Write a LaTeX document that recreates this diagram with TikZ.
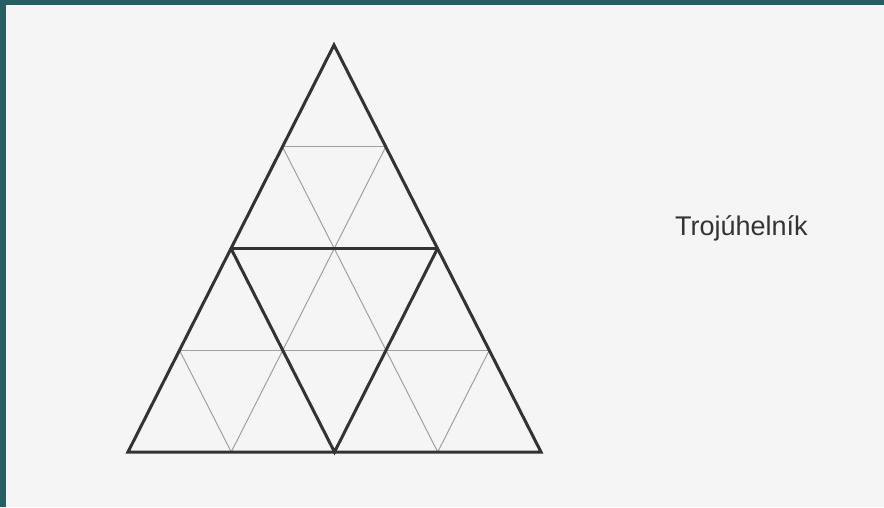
\documentclass[tikz,border=0pt]{standalone}
\usepackage{fontspec}
\setsansfont{Liberation Sans}
\usetikzlibrary{calc}
\definecolor{bgpaper}{HTML}{F5F5F5}
\definecolor{frameteal}{HTML}{265E61}
\definecolor{thickline}{HTML}{333333}
\definecolor{thinline}{HTML}{A0A0A0}
\definecolor{labeltext}{HTML}{333333}
\tikzset{
  thickedge/.style={draw=thickline, line width=3pt, line join=miter, line cap=round},
  thinedge/.style={draw=thinline, line width=1pt},
  labelstyle/.style={font=\sffamily\fontsize{27}{32}\selectfont, text=labeltext, inner sep=0pt, anchor=base west}
}
\begin{document}
\begin{tikzpicture}[x=1pt,y=-1pt]
\useasboundingbox (0,0) rectangle (884,507);
\fill[bgpaper] (0,0) rectangle (884,507);
\fill[frameteal] (0,0) rectangle (884,5);
\fill[frameteal] (0,0) rectangle (6,507);
% vertices
\coordinate (A) at (334,45);
\coordinate (L) at (128,452);
\coordinate (R) at (541,452);
\foreach \k in {0,...,4} {
  \coordinate (l\k) at ($(A)!\k/4!(L)$);
  \coordinate (r\k) at ($(A)!\k/4!(R)$);
  \coordinate (b\k) at ($(L)!\k/4!(R)$);
}
% thin grid
\foreach \k [evaluate=\k as \m using int(4-\k)] in {1,2,3} {
  \draw[thinedge] (l\k) -- (r\k);
  \draw[thinedge] (b\k) -- (r\k);
  \draw[thinedge] (b\k) -- (l\m);
}
% thick lines
\draw[thickedge] (A) -- (L) -- (R) -- cycle;
\draw[thickedge] (l2) -- (r2);
\draw[thickedge] (l2) -- (b2) -- (r2);
% label
\node[labelstyle] (lbl) at (675,235) {Trojúhelník};
\end{tikzpicture}
\end{document}
